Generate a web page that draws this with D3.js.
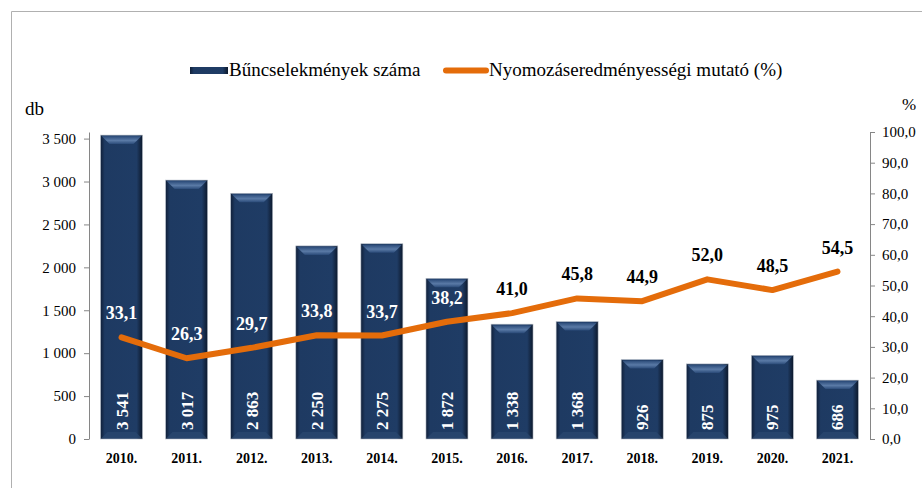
<!DOCTYPE html>
<html>
<head>
<meta charset="utf-8">
<script src="https://cdn.jsdelivr.net/npm/d3@7"></script>
<style>
  body { margin: 0; background: #fff; }
  svg { display: block; }
</style>
</head>
<body>
<svg id="chart" width="922" height="488" font-family="Liberation Serif, Times New Roman, serif"></svg>
<script>
// chart data
var years = ["2010.", "2011.", "2012.", "2013.", "2014.", "2015.", "2016.", "2017.", "2018.", "2019.", "2020.", "2021."];
var crimes = [3541, 3017, 2863, 2250, 2275, 1872, 1338, 1368, 926, 875, 975, 686];
var rate = [33.1, 26.3, 29.7, 33.8, 33.7, 38.2, 41.0, 45.8, 44.9, 52.0, 48.5, 54.5];
var leftTicks = [0, 500, 1000, 1500, 2000, 2500, 3000, 3500];
var rightTicks = [0, 10, 20, 30, 40, 50, 60, 70, 80, 90, 100];

var svg = d3.select("#chart");
var orange = "#e46c0a";
var serif = "Liberation Serif, Times New Roman, serif";

var fmtThousands = function(v) { return d3.format(",")(v).replace(/,/g, " "); };
var fmtDec = function(v) { return d3.format(".1f")(v).replace(".", ","); };

// frame of the original screenshot
svg.append("path")
  .attr("d", "M11.5,488 V11.5 H922")
  .attr("fill", "none")
  .attr("stroke", "#b0b0b0")
  .attr("stroke-width", 1);

var x = d3.scaleBand().domain(years).range([89, 870]).paddingInner(0.355).paddingOuter(0.1775);
var yL = d3.scaleLinear().domain([0, 3577]).range([439, 132]);
var yR = d3.scaleLinear().domain([0, 100]).range([439, 132]);

// bar gradients
var defs = svg.append("defs");
var gH = defs.append("linearGradient").attr("id", "barH");
gH.append("stop").attr("offset", "0%").attr("stop-color", "#101f38");
gH.append("stop").attr("offset", "10%").attr("stop-color", "#1e3a62");
gH.append("stop").attr("offset", "86%").attr("stop-color", "#1f3c65");
gH.append("stop").attr("offset", "100%").attr("stop-color", "#0c182b");
var gV = defs.append("linearGradient").attr("id", "barTop").attr("x1", 0).attr("y1", 0).attr("x2", 0).attr("y2", 1);
gV.append("stop").attr("offset", "0%").attr("stop-color", "#2a4a78");
gV.append("stop").attr("offset", "55%").attr("stop-color", "#5a7aa6");
gV.append("stop").attr("offset", "100%").attr("stop-color", "#2a4a78");

// left axis
var axL = svg.append("g").attr("transform", "translate(89,0)")
  .call(d3.axisLeft(yL).tickValues(leftTicks).tickFormat(fmtThousands).tickSize(5).tickSizeOuter(0))
  .attr("font-family", serif);
axL.select(".domain").attr("stroke", "#868686");
axL.selectAll(".tick line").attr("stroke", "#868686");
axL.selectAll(".tick text").attr("x", -13).attr("font-size", 15).attr("fill", "#000");

// right axis
var axR = svg.append("g").attr("transform", "translate(870,0)")
  .call(d3.axisRight(yR).tickValues(rightTicks).tickFormat(fmtDec).tickSize(5).tickSizeOuter(0))
  .attr("font-family", serif);
axR.select(".domain").attr("stroke", "#868686");
axR.selectAll(".tick line").attr("stroke", "#868686");
axR.selectAll(".tick text").attr("x", 12).attr("font-size", 15).attr("fill", "#000");

// bars
var bars = svg.append("g").selectAll("g").data(years).join("g");
bars.append("rect")
  .attr("x", function(d) { return x(d); })
  .attr("y", function(d, i) { return yL(crimes[i]); })
  .attr("width", x.bandwidth())
  .attr("height", function(d, i) { return yL(0) - yL(crimes[i]); })
  .attr("fill", "url(#barH)")
  .attr("stroke", "#b8c0cc")
  .attr("stroke-width", 0.6);
// bevel highlight on top
bars.append("path")
  .attr("d", function(d, i) {
    var x0 = x(d) + 1, x1 = x(d) + x.bandwidth() - 1, t = yL(crimes[i]) + 1;
    return "M" + x0 + "," + t + " H" + x1 + " L" + (x1 - 8) + "," + (t + 8) + " H" + (x0 + 8) + " Z";
  })
  .attr("fill", "url(#barTop)");
bars.append("path")
  .attr("d", function(d, i) {
    var x0 = x(d) + 1, x1 = x(d) + x.bandwidth() - 1, b = yL(0) - 1;
    return "M" + x0 + "," + b + " H" + x1 + " L" + (x1 - 6) + "," + (b - 6) + " H" + (x0 + 6) + " Z";
  })
  .attr("fill", "#2b4870").attr("opacity", 0.7);

// bar value labels, rotated
bars.append("text")
  .attr("transform", function(d) { return "translate(" + (x(d) + x.bandwidth() / 2 + 6) + ",430) rotate(-90)"; })
  .attr("fill", "#fff")
  .attr("font-weight", "bold")
  .attr("font-size", 17)
  .text(function(d, i) { return fmtThousands(crimes[i]); });

// line
var line = d3.line()
  .x(function(d, i) { return x(years[i]) + x.bandwidth() / 2; })
  .y(function(d) { return yR(d); });
svg.append("path")
  .datum(rate)
  .attr("d", line)
  .attr("fill", "none")
  .attr("stroke", orange)
  .attr("stroke-width", 6)
  .attr("stroke-linejoin", "round")
  .attr("stroke-linecap", "round");

// line labels
svg.append("g").selectAll("text").data(rate).join("text")
  .attr("x", function(d, i) { return x(years[i]) + x.bandwidth() / 2; })
  .attr("y", function(d) { return yR(d) - 18; })
  .attr("text-anchor", "middle")
  .attr("font-weight", "bold")
  .attr("font-size", 18)
  .attr("fill", function(d, i) { return i < 6 ? "#fff" : "#000"; })
  .text(fmtDec);

// category labels
svg.append("g").selectAll("text").data(years).join("text")
  .attr("x", function(d) { return x(d) + x.bandwidth() / 2; })
  .attr("y", 463)
  .attr("text-anchor", "middle")
  .attr("font-weight", "bold")
  .attr("font-size", 14)
  .text(function(d) { return d; });

// axis titles
svg.append("text").attr("x", 25).attr("y", 115).attr("font-size", 19).text("db");
svg.append("text").attr("x", 902).attr("y", 110).attr("font-size", 17).text("%");

// legend
var lg = svg.append("g");
lg.append("rect").attr("x", 190).attr("y", 67).attr("width", 38).attr("height", 7).attr("fill", "url(#barH)");
lg.append("text").attr("x", 229).attr("y", 76).attr("font-size", 19).text("Bűncselekmények száma");
lg.append("line").attr("x1", 446).attr("x2", 486).attr("y1", 70.5).attr("y2", 70.5)
  .attr("stroke", orange).attr("stroke-width", 6).attr("stroke-linecap", "round");
lg.append("text").attr("x", 489).attr("y", 76).attr("font-size", 19).text("Nyomozáseredményességi mutató (%)");
</script>
</body>
</html>
